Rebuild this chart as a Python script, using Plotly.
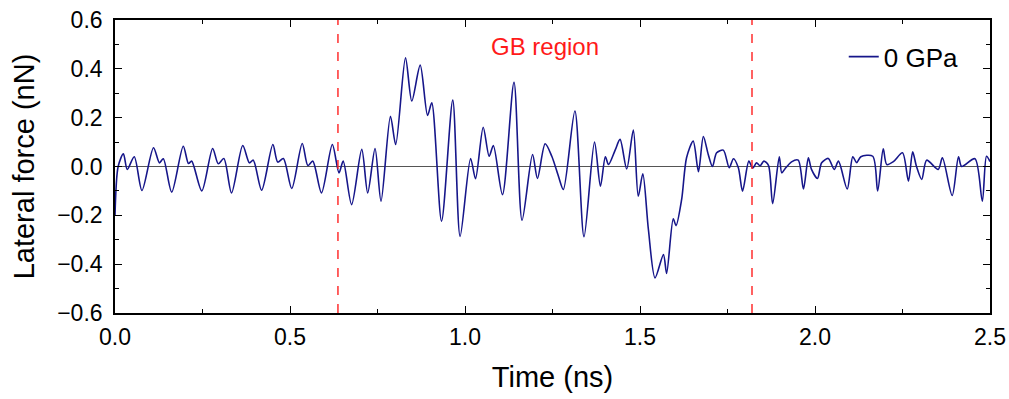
import plotly.graph_objects as go

# Time (ns) and lateral force (nN)
time_ns = [0.000, 0.009, 0.024, 0.035, 0.055, 0.077, 0.110, 0.127, 0.138, 0.162,
           0.195, 0.210, 0.219, 0.248, 0.279, 0.295, 0.311, 0.333, 0.365, 0.384,
           0.395, 0.419, 0.451, 0.465, 0.481, 0.505, 0.535, 0.551, 0.565, 0.590,
           0.621, 0.640, 0.652, 0.676, 0.705, 0.722, 0.743, 0.760, 0.787, 0.802,
           0.830, 0.848, 0.872, 0.893, 0.905, 0.933, 0.965, 0.986, 1.016, 1.030,
           1.052, 1.069, 1.081, 1.107, 1.140, 1.163, 1.193, 1.207, 1.229, 1.248,
           1.267, 1.281, 1.314, 1.340, 1.370, 1.387, 1.401, 1.410, 1.429, 1.443,
           1.462, 1.481, 1.495, 1.508, 1.524, 1.543, 1.567, 1.576, 1.595, 1.603,
           1.619, 1.633, 1.652, 1.667, 1.681, 1.695, 1.707, 1.719, 1.738, 1.755,
           1.767, 1.781, 1.793, 1.811, 1.822, 1.833, 1.843, 1.854, 1.867, 1.879,
           1.898, 1.905, 1.914, 1.933, 1.952, 1.967, 1.981, 1.990, 2.007, 2.019,
           2.038, 2.055, 2.067, 2.092, 2.108, 2.119, 2.131, 2.165, 2.179, 2.195,
           2.205, 2.224, 2.250, 2.267, 2.279, 2.290, 2.305, 2.319, 2.352, 2.364,
           2.392, 2.410, 2.419, 2.457, 2.478, 2.490, 2.500]
force_nN = [-0.200, 0.000, 0.052, -0.012, 0.040, -0.098, 0.077, 0.015, 0.032, -0.105,
            0.083, 0.012, 0.022, -0.100, 0.074, 0.011, 0.033, -0.108, 0.086, 0.015,
            0.026, -0.097, 0.090, 0.018, 0.033, -0.090, 0.094, 0.004, 0.022, -0.108,
            0.090, -0.026, 0.022, -0.156, 0.070, -0.108, 0.074, -0.142, 0.206, 0.090,
            0.445, 0.268, 0.415, 0.209, 0.261, -0.224, 0.272, -0.286, 0.033, -0.050,
            0.161, 0.042, 0.086, -0.115, 0.345, -0.220, 0.049, -0.049, 0.093, 0.042,
            -0.040, -0.094, 0.227, -0.288, 0.100, -0.081, 0.040, 0.008, 0.067, 0.111,
            -0.010, 0.149, -0.122, -0.030, -0.258, -0.456, -0.361, -0.438, -0.214, -0.242,
            -0.135, 0.036, 0.104, -0.021, 0.123, 0.049, 0.000, 0.056, 0.067, -0.005,
            0.032, -0.005, -0.101, 0.022, -0.007, 0.015, 0.003, 0.022, 0.005, -0.152,
            0.040, -0.026, -0.010, 0.019, 0.026, -0.092, 0.036, -0.012, -0.049, 0.015,
            0.033, -0.012, 0.022, -0.092, 0.040, 0.016, 0.040, 0.042, -0.100, 0.072,
            0.008, 0.020, 0.056, -0.060, 0.060, 0.000, -0.053, 0.026, -0.012, 0.036,
            -0.119, 0.040, 0.000, 0.032, -0.142, 0.042, 0.020]

gb_bounds = [0.637, 1.82]
series_name = "0 GPa"
x_ticks = [0.0, 0.5, 1.0, 1.5, 2.0, 2.5]
y_ticks = [-0.6, -0.4, -0.2, 0.0, 0.2, 0.4, 0.6]

FONT = "Liberation Sans, Arial, sans-serif"

fig = go.Figure()
fig.add_trace(go.Scatter(
    x=time_ns, y=force_nN, mode="lines", name=series_name,
    line=dict(color="#16168a", width=1.6, shape="spline", smoothing=0.8),
))

# zero reference line
fig.add_shape(type="line", xref="paper", x0=0, x1=1, yref="y", y0=0, y1=0,
              line=dict(color="#555555", width=1), layer="below")
# GB region boundaries
for xb in gb_bounds:
    fig.add_shape(type="line", xref="x", x0=xb, x1=xb, yref="paper", y0=0, y1=1,
                  line=dict(color="#ff2020", width=1.4, dash="dash"))

fig.add_annotation(x=1.228, y=0.49, xref="x", yref="y", text="GB region",
                   showarrow=False, font=dict(color="#ff1a1a", size=24, family=FONT))

axis_common = dict(
    showgrid=False, zeroline=False, showline=True, linecolor="black", linewidth=1.6,
    mirror="allticks", ticks="inside", ticklen=7, tickwidth=1.3, tickcolor="black",
    tickfont=dict(size=23, family=FONT, color="black"),
    automargin=False, ticklabeloverflow="allow",
)
fig.update_xaxes(range=[0, 2.5], tickvals=x_ticks, tickformat=".1f", ticklabelstandoff=3,
                 minor=dict(ticks="inside", ticklen=4, tickwidth=1.2, tickcolor="black", dtick=0.25),
                 title=dict(text="Time (ns)", font=dict(size=29, family=FONT, color="black"), standoff=17),
                 **axis_common)
fig.update_yaxes(range=[-0.6, 0.6], tickvals=y_ticks, tickformat=".1f", ticklabelstandoff=6,
                 minor=dict(ticks="inside", ticklen=4, tickwidth=1.2, tickcolor="black", dtick=0.1),
                 title=dict(text="Lateral force (nN)", font=dict(size=29, family=FONT, color="black"), standoff=14),
                 **axis_common)

fig.update_layout(
    width=1009, height=399,
    margin=dict(l=115, r=19, t=20, b=86),
    paper_bgcolor="white", plot_bgcolor="white",
    showlegend=True,
    legend=dict(x=0.970, y=0.955, xanchor="right", yanchor="top",
                bgcolor="rgba(0,0,0,0)", font=dict(size=26, family=FONT, color="black")),
)

fig.write_html("out.html", config={"displayModeBar": False},
               post_script="document.body.style.margin='0';document.body.style.overflow='hidden';")
